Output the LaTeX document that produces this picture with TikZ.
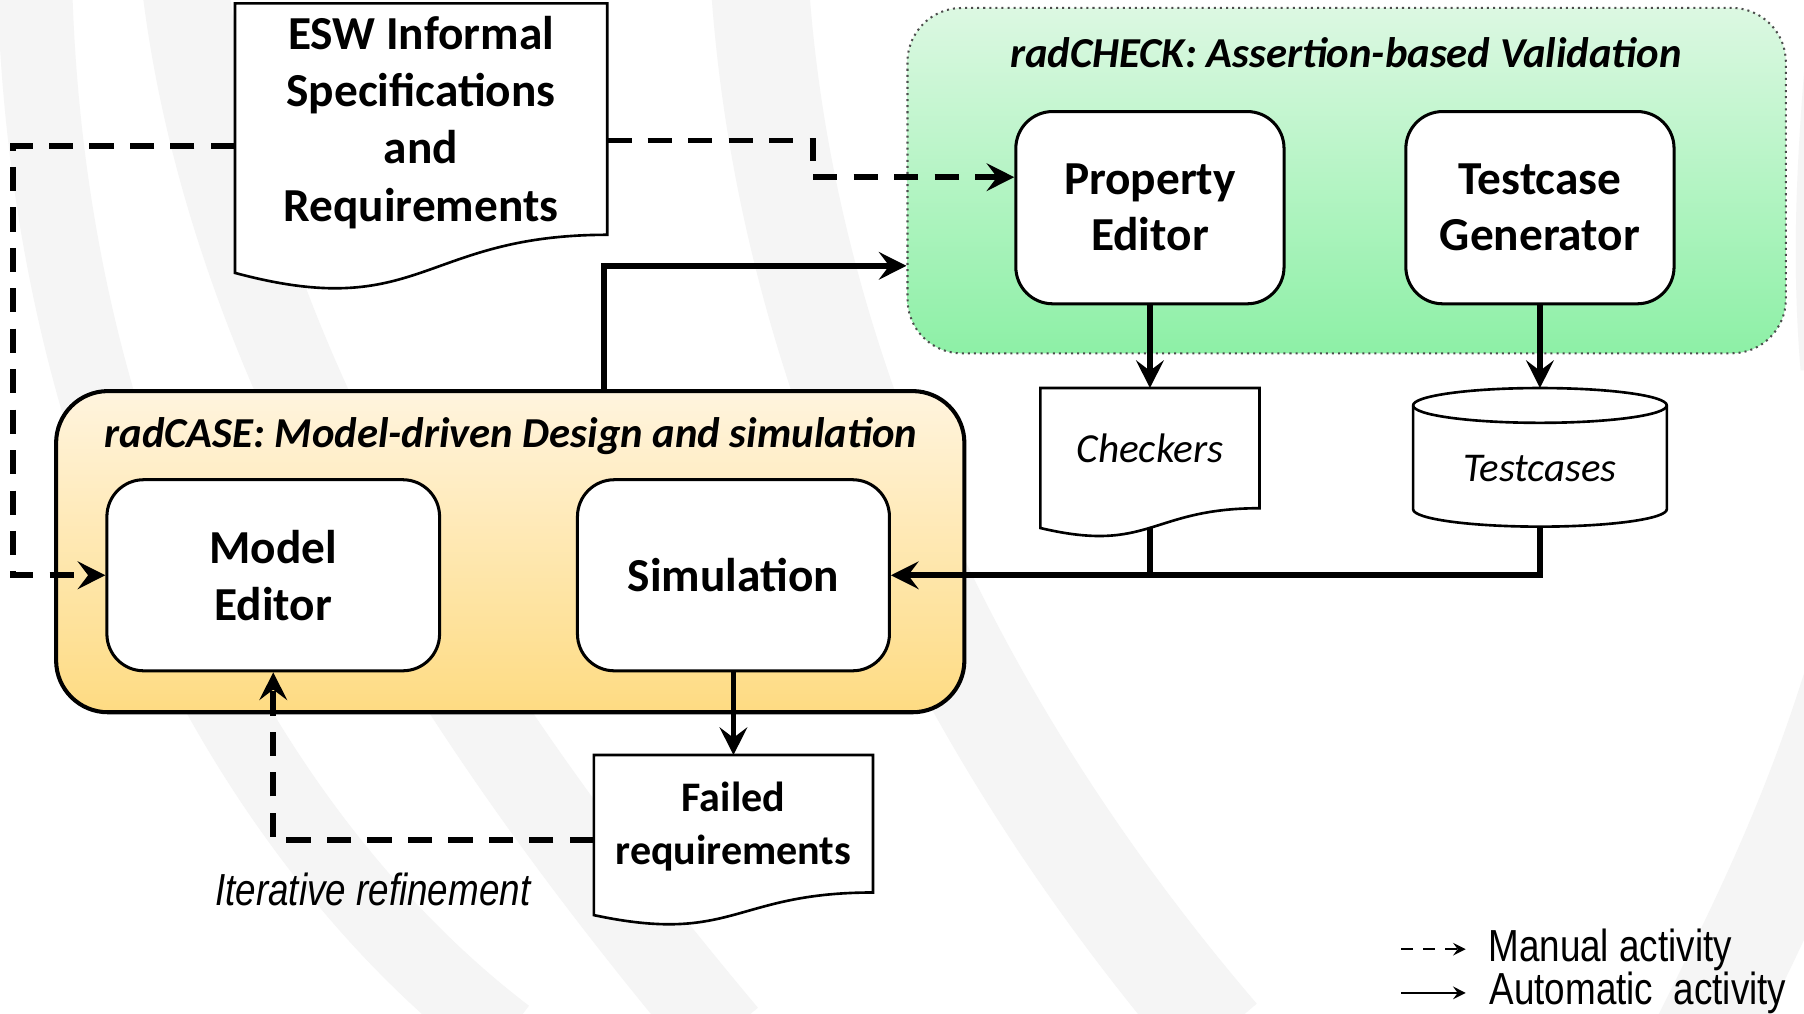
\documentclass[tikz,border=0pt]{standalone}
\usepackage{fontspec}
\setmainfont{Carlito}
\newfontfamily\narrowfont{Liberation Sans}[FakeStretch=0.82]
\usetikzlibrary{arrows.meta,calc}
\pgfdeclarelayer{bg}
\pgfdeclarelayer{mid}
\pgfsetlayers{bg,mid,main}
\definecolor{wm}{RGB}{245,245,245}
\definecolor{chkTop}{RGB}{220,248,226}
\definecolor{chkBot}{RGB}{141,240,166}
\definecolor{caseTop}{RGB}{255,244,222}
\definecolor{caseBot}{RGB}{254,219,130}
\newcommand\raisetext[2]{\raisebox{#1}[\height][\depth]{#2}}
\newcommand\docwave[1]{%
\begin{pgfonlayer}{mid}
\draw[shapeline,fill=white] let \p1=(#1.north west), \p2=(#1.south east) in
 (\p1) -- (\x2,\y1) -- (\p2) .. controls ({(\x1+\x2)/2},\y2) and ({(\x1+\x2)/2},{\y2-0.381*(\y1-\y2)}) .. (\x1,{\y2-0.1646*(\y1-\y2)}) -- cycle;
\end{pgfonlayer}}
\newcommand\cylshape[1]{%
\begin{pgfonlayer}{mid}
\draw[shapeline,fill=white] let \p1=(#1.north west), \p2=(#1.south east) in
 (\x1,{\y1-4.3pt}) -- (\x1,{\y2+4.3pt}) arc[start angle=180,end angle=360,x radius={(\x2-\x1)/2},y radius=4.3pt]
 -- (\x2,{\y1-4.3pt}) arc[start angle=0,end angle=180,x radius={(\x2-\x1)/2},y radius=4.3pt] -- cycle;
\draw[shapeline] let \p1=(#1.north west), \p2=(#1.south east) in
 (\x1,{\y1-4.3pt}) arc[start angle=180,end angle=360,x radius={(\x2-\x1)/2},y radius=4.3pt];
\end{pgfonlayer}}
\begin{document}
\begin{tikzpicture}[x=0.01cm,y=-0.01cm,
 shapeline/.style={draw=black,line width=0.65pt},
 proc/.style={draw=black,line width=0.75pt,fill=white,rounded corners=0.32cm,
   minimum width=2.33cm,minimum height=1.67cm,align=center,inner sep=0pt,
   font=\fontsize{11.7}{14}\selectfont\bfseries},
 doc/.style={draw=none,inner sep=0pt,align=center},
 title/.style={inner sep=0pt,font=\fontsize{10.55}{12}\selectfont\bfseries\itshape},
 narrowtext/.style={inner sep=0pt,font=\narrowfont\fontsize{11.1}{13}\selectfont},
 tip/.style={-{Stealth[length=0.24cm,width=0.24cm,inset=0.09cm]}},
 manual/.style={tip,line width=1.4pt,dash pattern=on 6pt off 4pt},
 autoarr/.style={tip,line width=1.45pt},
 autoline/.style={line width=1.45pt},
 legtip/.style={-{Stealth[length=0.11cm,width=0.11cm,inset=0.04cm]},line width=0.6pt}
]
\useasboundingbox (0,0) rectangle (1568,881);
\begin{pgfonlayer}{bg}
\fill[white] (0,0) rectangle (1568,881);
\begin{scope}
\clip (0,0) rectangle (1568,881);
\draw[wm,line width=0.65cm] (30,-20) .. controls (40,420) and (230,740) .. (440,900);
\draw[wm,line width=0.75cm] (160,-20) .. controls (200,330) and (420,650) .. (630,900);
\draw[wm,line width=0.85cm] (660,-20) .. controls (680,300) and (820,620) .. (1060,900);
\draw[wm,line width=0.85cm] (1620,560) .. controls (1580,700) and (1530,800) .. (1480,900);
\draw[wm,line width=0.5cm] (1600,-20) .. controls (1590,100) and (1580,200) .. (1590,320);
\end{scope}
\end{pgfonlayer}

% containers
\node[draw=black!70,densely dotted,line width=0.5pt,rounded corners=0.47cm,
  top color=chkTop,bottom color=chkBot,minimum width=7.63cm,minimum height=3cm] (radcheck) at (1170.5,157) {};
\node[title] (checkTitle) at (1170,46) {radCHECK: Assertion-based Validation};
\node[draw=black,line width=1pt,rounded corners=0.45cm,
  top color=caseTop,bottom color=caseBot,minimum width=7.89cm,minimum height=2.79cm] (radcase) at (443.5,479.5) {};
\node[title] (caseTitle) at (444,379) {radCASE: Model-driven Design and simulation};

% process boxes
\node[proc] (pe) at (999.5,180.5) {\raisetext{-0.03cm}{\begin{tabular}{@{}c@{}}Property\\Editor\end{tabular}}};
\node[proc] (tg) at (1338.5,180.5) {\raisetext{-0.03cm}{\begin{tabular}{@{}c@{}}Testcase\\Generator\end{tabular}}};
\node[proc,minimum width=2.89cm,minimum height=1.66cm] (me) at (237.5,500) {Model\\Editor};
\node[proc,minimum width=2.71cm,minimum height=1.66cm] (sim) at (637.5,500) {Simulation};

% documents
\node[doc,minimum width=3.22cm,minimum height=1.93cm,font=\fontsize{11.7}{14.2}\selectfont\bfseries] (esw) at (366,103.5) {\raisetext{-0.04cm}{\begin{tabular}{@{}c@{}}ESW Informal\\Specifications\\and\\Requirements\end{tabular}}};
\docwave{esw}
\node[doc,minimum width=1.89cm,minimum height=1.03cm,font=\fontsize{10.2}{12}\selectfont\itshape] (chk) at (999.5,389.5) {Checkers};
\docwave{chk}
\node[doc,minimum width=2.41cm,minimum height=1.18cm,font=\fontsize{10.4}{13.1}\selectfont\bfseries] (fail) at (637.5,716) {\raisetext{-0.03cm}{\begin{tabular}{@{}c@{}}Failed\\requirements\end{tabular}}};
\docwave{fail}
\node[doc,minimum width=2.19cm,minimum height=1.19cm,font=\fontsize{10.1}{12}\selectfont\itshape] (tc) at (1338.5,397.5) {\raisetext{-0.1cm}{Testcases}};
\cylshape{tc}

% connectors
\draw[manual] ([yshift=-0.185cm]esw.east) -- ++(179,0) |- ([yshift=0.265cm]pe.west);
\draw[manual] ([yshift=-0.235cm]esw.west) -- ++(-193,0) |- (me.west);
\draw[autoarr] ([xshift=0.815cm]radcase.north) |- ([yshift=-0.74cm]radcheck.west);
\draw[autoarr] (pe.south) -- (chk.north);
\draw[autoarr] (tg.south) -- (tc.north);
\draw[autoline] ([yshift=-0.168cm]chk.south) -- (chk.south |- sim.east);
\draw[autoarr] (tc.south) |- (sim.east);
\draw[autoarr] (sim.south) -- (fail.north);
\draw[manual] ([yshift=-0.14cm]fail.west) -| (me.south);

\node[narrowtext,font=\narrowfont\itshape\fontsize{11.1}{13}\selectfont] (iter) at (324,773) {Iterative refinement};

% legend
\coordinate (lgm1) at (1218,825);
\coordinate (lgm2) at (1274,825);
\coordinate (lga1) at (1218,863);
\coordinate (lga2) at (1274,863);
\draw[legtip,dash pattern=on 3pt off 2.4pt] (lgm1) -- (lgm2);
\draw[legtip] (lga1) -- (lga2);
\node[narrowtext,anchor=west] (lgmt) at (1293,826) {Manual activity};
\node[narrowtext,anchor=west] (lgat) at (1294,863) {Automatic\ \ activity};
\end{tikzpicture}
\end{document}
